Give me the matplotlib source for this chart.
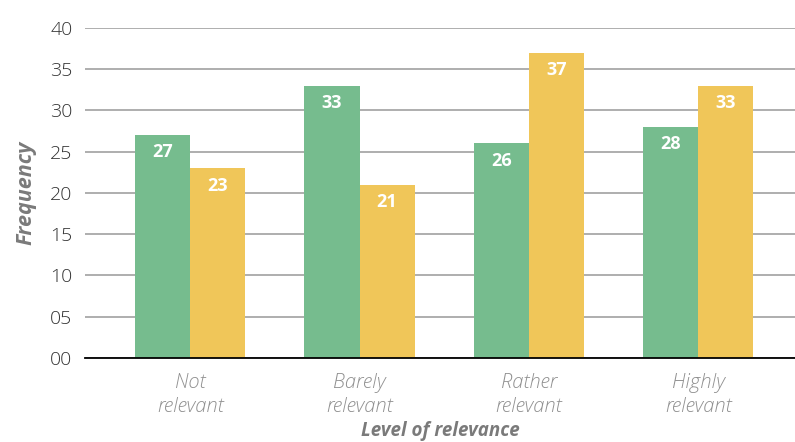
import matplotlib.pyplot as plt
import numpy as np

plt.rcParams['font.family'] = ['Open Sans', 'DejaVu Sans']

# data
categories = ['Not\nrelevant', 'Barely\nrelevant', 'Rather\nrelevant', 'Highly\nrelevant']
series_green = [27, 33, 26, 28]
series_yellow = [23, 21, 37, 33]
yticks = [0, 5, 10, 15, 20, 25, 30, 35, 40]
ytick_labels = ['00', '05', '10', '15', '20', '25', '30', '35', '40']

green = '#76bc8e'
yellow = '#f0c659'

fig = plt.figure(figsize=(7.95, 4.42), dpi=100)
ax = fig.add_axes([0.107, 0.19, 0.893, 0.747])

x = np.arange(len(categories))
w = 0.325
b1 = ax.bar(x - w / 2, series_green, w, color=green, zorder=3)
b2 = ax.bar(x + w / 2, series_yellow, w, color=yellow, zorder=3)

# value labels inside the top of each bar
for bars, vals in [(b1, series_green), (b2, series_yellow)]:
    for rect, v in zip(bars, vals):
        ax.text(rect.get_x() + rect.get_width() / 2, v - 2.1, str(v),
                ha='center', va='center', color='white',
                fontsize=13, fontweight='bold', zorder=4)

ax.set_xlim(-0.62, 3.57)
ax.set_ylim(0, 40)
ax.set_yticks(yticks)
ax.set_yticklabels(ytick_labels, fontsize=14, fontweight='light', color='#333333')
ax.set_xticks(x)
ax.set_xticklabels(categories, fontsize=14.5, fontweight='light', style='italic',
                   color='#909090', linespacing=1.25)
ax.tick_params(axis='both', length=0)
ax.tick_params(axis='y', pad=9)
ax.tick_params(axis='x', pad=11)

ax.yaxis.grid(True, color='#a8a8a8', linewidth=1.3, zorder=0)
ax.set_axisbelow(True)
for s in ['top', 'right', 'left']:
    ax.spines[s].set_visible(False)
ax.spines['bottom'].set_color('black')
ax.spines['bottom'].set_linewidth(1.3)
ax.spines['bottom'].set_zorder(5)

ax.set_xlabel('Level of relevance', fontsize=13.5, fontweight='bold',
              style='italic', color='#7a7a7a', labelpad=3)
ax.set_ylabel('Frequency', fontsize=15.5, fontweight='bold',
              style='italic', color='#7a7a7a', labelpad=10)

plt.savefig('out.png', dpi=100)
